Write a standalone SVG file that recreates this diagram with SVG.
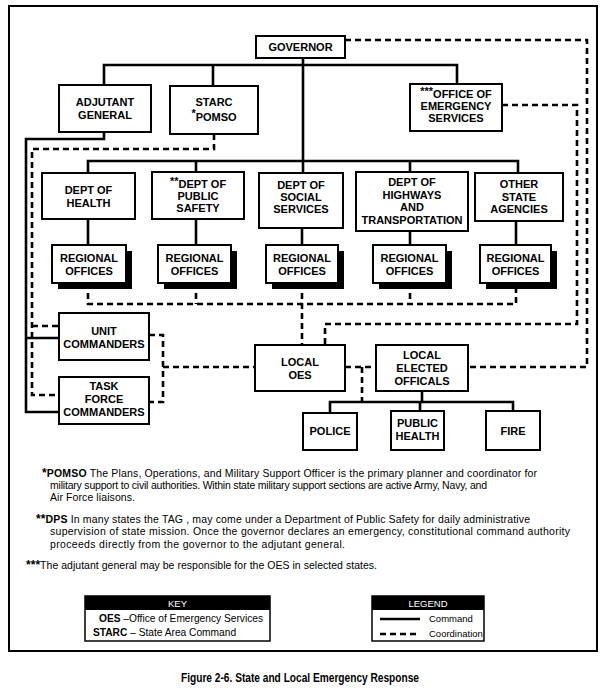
<svg xmlns="http://www.w3.org/2000/svg" width="610" height="695" viewBox="0 0 610 695">
<style>
.box{fill:#fff;stroke:#000;stroke-width:2}
.sh{fill:#000}
.cmd{fill:none;stroke:#000;stroke-width:2.6}
.crd{fill:none;stroke:#000;stroke-width:2.6;stroke-dasharray:6 4}
.t{font-family:"Liberation Sans",Arial,sans-serif;font-size:11px;font-weight:bold;text-anchor:middle;fill:#000}
.f{font-family:"Liberation Sans",Arial,sans-serif;font-size:10.5px;fill:#000}
.fb{font-weight:bold}
.k{font-family:"Liberation Sans",Arial,sans-serif;font-size:9.5px;fill:#000}
.k2{font-family:"Liberation Sans",Arial,sans-serif;font-size:10.2px;fill:#000}
</style>
<rect width="610" height="695" fill="#fff"/>
<rect x="9" y="6" width="588" height="645" fill="none" stroke="#000" stroke-width="2"/>

<g id="connectors">
  <!-- command -->
  <path class="cmd" d="M303 58V173"/>
  <path class="cmd" d="M104 85V65H457V84M213 65V86"/>
  <path class="cmd" d="M88 173V161H518V173M196 161V172M410 161V172"/>
  <path class="cmd" d="M88 219V245M196 219V245M302 228V245M410 231V245M516 221V245"/>
  <path class="cmd" d="M104 132V139H26V412H59M26 338H59"/>
  <path class="cmd" d="M422 391V402M330 413V402H513V411M420 402V411"/>
  <!-- coordination -->
  <path class="crd" d="M214 134V149H32V395H59M32 326H59"/>
  <path class="crd" d="M88 283V304H516V283M196 283V304M410 283V304M302 283V345"/>
  <path class="crd" d="M149 335H163V402H149M163 367H255"/>
  <path class="crd" d="M345 367H376M362 367V402"/>
  <path class="crd" d="M345 40H587V367H468"/>
  <path class="crd" d="M502 105H577V324H325V345"/>
</g>

<g id="governor"><rect class="box" x="256" y="36" width="89" height="22"/><text class="t" x="300.5" y="51">GOVERNOR</text></g>
<g id="adjutant"><rect class="box" x="59" y="85" width="92" height="47"/><text class="t" x="105" y="106">ADJUTANT</text><text class="t" x="105" y="119">GENERAL</text></g>
<g id="starc"><rect class="box" x="170" y="86" width="88" height="48"/><text class="t" x="214" y="106">STARC</text><text class="t" x="214" y="121"><tspan dy="-4">*</tspan><tspan dy="4">POMSO</tspan></text></g>
<g id="oes"><rect class="box" x="410" y="84" width="92" height="47"/><text class="t" x="456" y="98"><tspan dy="-3">***</tspan><tspan dy="3">OFFICE OF</tspan></text><text class="t" x="456" y="110">EMERGENCY</text><text class="t" x="456" y="122">SERVICES</text></g>

<g id="dept-health"><rect class="box" x="42" y="173" width="93" height="46"/><text class="t" x="88.5" y="194">DEPT OF</text><text class="t" x="88.5" y="207">HEALTH</text></g>
<g id="dept-public-safety"><rect class="box" x="152" y="172" width="92" height="47"/><text class="t" x="198" y="188"><tspan dy="-3">**</tspan><tspan dy="3">DEPT OF</tspan></text><text class="t" x="198" y="200">PUBLIC</text><text class="t" x="198" y="212">SAFETY</text></g>
<g id="dept-social"><rect class="box" x="259" y="173" width="84" height="55"/><text class="t" x="301" y="189">DEPT OF</text><text class="t" x="301" y="201">SOCIAL</text><text class="t" x="301" y="213">SERVICES</text></g>
<g id="dept-highways"><rect class="box" x="356" y="172" width="112" height="59"/><text class="t" x="412" y="186">DEPT OF</text><text class="t" x="412" y="198.5">HIGHWAYS</text><text class="t" x="412" y="211">AND</text><text class="t" x="412" y="223.5">TRANSPORTATION</text></g>
<g id="other-agencies"><rect class="box" x="475" y="173" width="88" height="48"/><text class="t" x="519" y="188">OTHER</text><text class="t" x="519" y="201">STATE</text><text class="t" x="519" y="213">AGENCIES</text></g>

<g id="regional-1"><rect class="sh" x="58" y="251" width="74" height="38"/><rect class="box" x="52" y="245" width="74" height="38"/><text class="t" x="89" y="262">REGIONAL</text><text class="t" x="89" y="275">OFFICES</text></g>
<g id="regional-2"><rect class="sh" x="164" y="251" width="73" height="38"/><rect class="box" x="158" y="245" width="73" height="38"/><text class="t" x="194.5" y="262">REGIONAL</text><text class="t" x="194.5" y="275">OFFICES</text></g>
<g id="regional-3"><rect class="sh" x="272" y="251" width="72" height="38"/><rect class="box" x="266" y="245" width="72" height="38"/><text class="t" x="302" y="262">REGIONAL</text><text class="t" x="302" y="275">OFFICES</text></g>
<g id="regional-4"><rect class="sh" x="379" y="251" width="73" height="38"/><rect class="box" x="373" y="245" width="73" height="38"/><text class="t" x="409.5" y="262">REGIONAL</text><text class="t" x="409.5" y="275">OFFICES</text></g>
<g id="regional-5"><rect class="sh" x="486" y="251" width="71" height="38"/><rect class="box" x="480" y="245" width="71" height="38"/><text class="t" x="515.5" y="262">REGIONAL</text><text class="t" x="515.5" y="275">OFFICES</text></g>

<g id="unit-commanders"><rect class="box" x="59" y="313" width="90" height="47"/><text class="t" x="104" y="335">UNIT</text><text class="t" x="104" y="348">COMMANDERS</text></g>
<g id="task-force"><rect class="box" x="59" y="377" width="90" height="47"/><text class="t" x="104" y="390">TASK</text><text class="t" x="104" y="403">FORCE</text><text class="t" x="104" y="416">COMMANDERS</text></g>
<g id="local-oes"><rect class="box" x="255" y="345" width="90" height="46"/><text class="t" x="300" y="366">LOCAL</text><text class="t" x="300" y="379">OES</text></g>
<g id="local-elected"><rect class="box" x="376" y="345" width="92" height="46"/><text class="t" x="422" y="359">LOCAL</text><text class="t" x="422" y="372">ELECTED</text><text class="t" x="422" y="385">OFFICALS</text></g>
<g id="police"><rect class="box" x="303" y="413" width="54" height="37"/><text class="t" x="330" y="435">POLICE</text></g>
<g id="public-health"><rect class="box" x="391" y="411" width="53" height="39"/><text class="t" x="417.5" y="427">PUBLIC</text><text class="t" x="417.5" y="440">HEALTH</text></g>
<g id="fire"><rect class="box" x="486" y="411" width="54" height="39"/><text class="t" x="513" y="435">FIRE</text></g>

<g id="notes">
  <text class="f" x="42" y="477" textLength="495" lengthAdjust="spacing"><tspan class="fb" font-size="12">*</tspan><tspan class="fb">POMSO</tspan>  The Plans, Operations, and Military Support Officer is the primary planner and coordinator for</text>
  <text class="f" x="50" y="489" textLength="437" lengthAdjust="spacing">military support to civil authorities.  Within state military support sections are active Army, Navy, and</text>
  <text class="f" x="50" y="501" textLength="85" lengthAdjust="spacing">Air Force liaisons.</text>
  <text class="f" x="36" y="523" textLength="494" lengthAdjust="spacing"><tspan class="fb" font-size="12">**</tspan><tspan class="fb">DPS</tspan>  In many states the TAG , may come under a Department of  Public Safety for daily administrative</text>
  <text class="f" x="50" y="535" textLength="520" lengthAdjust="spacing">supervision of state mission.  Once the governor declares an emergency, constitutional command authority</text>
  <text class="f" x="50" y="548" textLength="295" lengthAdjust="spacing">proceeds directly from the governor to the adjutant general.</text>
  <text class="f" x="26" y="569" textLength="351" lengthAdjust="spacing"><tspan class="fb" font-size="12">***</tspan>The adjutant general may be responsible for the OES in selected states.</text>
</g>

<g id="key">
  <rect x="85" y="596" width="185" height="45" fill="#fff" stroke="#000" stroke-width="1.5"/>
  <rect x="85" y="596" width="185" height="14" fill="#000"/>
  <text class="k" x="177.5" y="606.5" text-anchor="middle" style="fill:#fff">KEY</text>
  <text class="k2" x="99" y="622"><tspan class="fb">OES</tspan> –Office of Emergency Services</text>
  <text class="k2" x="93" y="636"><tspan class="fb">STARC</tspan> – State Area Command</text>
</g>
<g id="legend">
  <rect x="372" y="596" width="112" height="45" fill="#fff" stroke="#000" stroke-width="1.5"/>
  <rect x="372" y="596" width="112" height="14" fill="#000"/>
  <text class="k" x="428" y="606.5" text-anchor="middle" style="fill:#fff">LEGEND</text>
  <path d="M380 619H420" stroke="#000" stroke-width="2.6"/>
  <path d="M380 634H420" stroke="#000" stroke-width="2.6" stroke-dasharray="6 4"/>
  <text class="k" x="429" y="622">Command</text>
  <text class="k" x="429" y="637">Coordination</text>
</g>

<text x="181" y="682" textLength="238" lengthAdjust="spacingAndGlyphs" font-family="'Liberation Sans',Arial,sans-serif" font-size="12.5" font-weight="bold">Figure 2-6.  State and Local Emergency Response</text>
</svg>
